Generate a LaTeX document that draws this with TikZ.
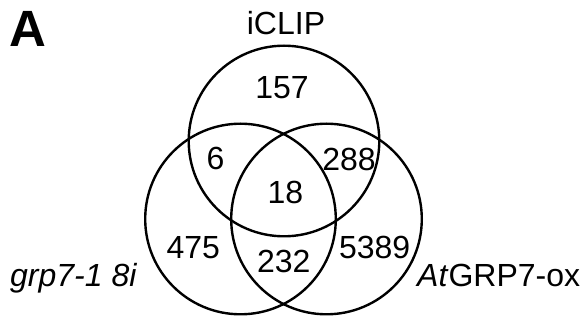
\documentclass[tikz,border=0pt]{standalone}
\usepackage{fontspec}
\setmainfont{Liberation Sans}
\begin{document}
\begin{tikzpicture}[x=1pt,y=-1pt,
  setcircle/.style={circle,draw,line width=2.4pt,inner sep=0pt,minimum size=190.6pt},
  count/.style={anchor=base,inner sep=0pt,font=\fontsize{32}{32}\selectfont},
  setlabel/.style={anchor=base west,inner sep=0pt,font=\fontsize{32}{32}\selectfont}]
\useasboundingbox (0,0) rectangle (587,320);

% the three sets
\node[setcircle] (iclip) at (284,141) {};
\node[setcircle] (mut)   at (240.5,219) {};
\node[setcircle] (ox)    at (326.5,219) {};

% set names
\node[count] (liclip) at (286,35) {iCLIP};
\node[setlabel] (lmut) at (10,286.7) {\itshape grp7-1 8i};
\node[setlabel] (lox)  at (417,286.7) {\textit{At}GRP7-ox};

% region counts
\node[count] (c157)  at (282,98.3)  {157};
\node[count] (c6)    at (215.5,170) {6};
\node[count] (c288)  at (349,171)   {288};
\node[count] (c18)   at (285.5,203.3) {18};
\node[count] (c475)  at (193.3,258.3) {475};
\node[count] (c232)  at (283.7,272.7) {232};
\node[count] (c5389) at (374.7,258.3) {5389};

% panel letter
\node[anchor=base west,inner sep=0pt,font=\bfseries\fontsize{51}{51}\selectfont] (panel) at (9,46.5) {A};
\end{tikzpicture}
\end{document}
